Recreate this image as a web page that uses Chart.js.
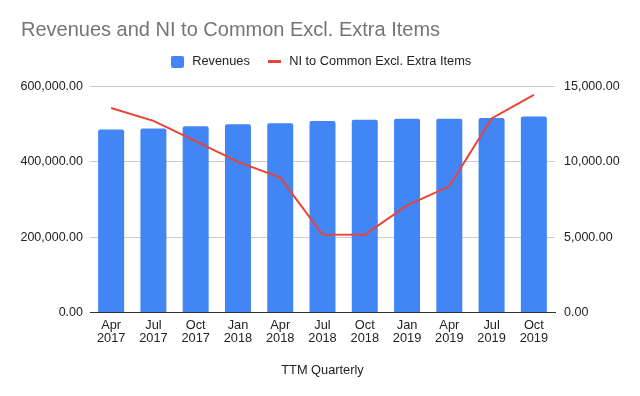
<!DOCTYPE html>
<html lang="en">
<head>
    <meta charset="UTF-8">
    <title>Revenues and NI to Common Excl. Extra Items</title>
    <script src="https://cdn.jsdelivr.net/npm/chart.js"></script>
    <style>
        body {
            margin: 0;
            background: white;
        }
        #chartContainer {
            width: 640px;
            height: 396px;
        }
    </style>
</head>
<body>
    <div id="chartContainer">
        <canvas id="finChart"></canvas>
    </div>

    <script>
        const quarters = [
            ['Apr', '2017'], ['Jul', '2017'], ['Oct', '2017'], ['Jan', '2018'],
            ['Apr', '2018'], ['Jul', '2018'], ['Oct', '2018'], ['Jan', '2019'],
            ['Apr', '2019'], ['Jul', '2019'], ['Oct', '2019']
        ];
        const revenues = [486000, 489000, 495000, 500500, 503000, 509000, 512000, 514700, 514700, 517000, 521000];
        const netIncome = [13580, 12730, 11380, 10000, 8960, 5180, 5160, 7110, 8380, 12890, 14450];

        const blue = '#4285f4';
        const red = '#ea4335';
        const fontFamily = 'Liberation Sans, Arial, sans-serif';

        const fmt = v => v.toLocaleString('en-US', { minimumFractionDigits: 2, maximumFractionDigits: 2 });

        // small legend icons: a rounded square for the bars, a short stroke for the line
        function makeIcon(w, h, color, r) {
            let c = document.createElement('canvas');
            c.width = w;
            c.height = h;
            let g = c.getContext('2d');
            g.fillStyle = color;
            g.beginPath();
            g.roundRect(0, 0, w, h, r);
            g.fill();
            return c;
        }
        const barIcon = makeIcon(13, 12, blue, 2);
        const lineIcon = makeIcon(13, 3, red, 0);

        // left-indent the title and pull the legend up closer to it
        const layoutTweaks = {
            id: 'layoutTweaks',
            afterLayout(chart) {
                if (chart.titleBlock) {
                    chart.titleBlock.left = 21;
                }
                if (chart.legend) {
                    chart.legend.top -= 8.6;
                    chart.legend.bottom -= 8.6;
                }
            }
        };

        let ctx = document.getElementById('finChart').getContext('2d');
        let chart = new Chart(ctx, {
            data: {
                labels: quarters,
                datasets: [{
                    type: 'bar',
                    label: 'Revenues',
                    data: revenues,
                    yAxisID: 'yLeft',
                    backgroundColor: blue,
                    borderRadius: 2,
                    borderSkipped: 'bottom',
                    categoryPercentage: 1,
                    barPercentage: 0.615,
                    order: 1
                }, {
                    type: 'line',
                    label: 'NI to Common Excl. Extra Items',
                    data: netIncome,
                    yAxisID: 'yRight',
                    borderColor: red,
                    backgroundColor: red,
                    borderWidth: 2,
                    pointRadius: 0,
                    tension: 0,
                    order: 0
                }]
            },
            options: {
                responsive: true,
                maintainAspectRatio: false,
                animation: false,
                layout: { padding: { top: 0, left: 0, right: 0, bottom: 14.3 } },
                plugins: {
                    title: {
                        display: true,
                        text: 'Revenues and NI to Common Excl. Extra Items',
                        align: 'start',
                        color: '#757575',
                        font: { family: fontFamily, size: 20, weight: 'normal' },
                        padding: { top: 18.7, bottom: 5.2 }
                    },
                    legend: {
                        labels: {
                            color: '#222',
                            font: { family: fontFamily, size: 12.8 },
                            usePointStyle: true,
                            pointStyleWidth: 17,
                            padding: 16,
                            sort: (a, b) => a.datasetIndex - b.datasetIndex,
                            generateLabels: c => {
                                let items = Chart.defaults.plugins.legend.labels.generateLabels(c);
                                items.forEach(it => {
                                    it.pointStyle = it.datasetIndex === 0 ? barIcon : lineIcon;
                                });
                                return items;
                            }
                        }
                    },
                    tooltip: { enabled: false }
                },
                scales: {
                    x: {
                        grid: { display: false, drawTicks: false },
                        border: { color: '#333' },
                        ticks: {
                            color: '#222',
                            font: { family: fontFamily, size: 12.8, lineHeight: 1 },
                            maxRotation: 0,
                            padding: 7
                        },
                        title: {
                            display: true,
                            text: 'TTM Quarterly',
                            color: '#222',
                            font: { family: fontFamily, size: 12.8 },
                            padding: { top: 10.3, bottom: 4 }
                        }
                    },
                    yLeft: {
                        position: 'left',
                        min: 0,
                        max: 600000,
                        ticks: {
                            stepSize: 200000,
                            color: '#222',
                            font: { family: fontFamily, size: 12.5 },
                            callback: v => fmt(v),
                            padding: 7
                        },
                        grid: { color: '#cccccc', drawTicks: false },
                        border: { display: false },
                        afterFit: s => { s.width = 90; }
                    },
                    yRight: {
                        position: 'right',
                        min: 0,
                        max: 15000,
                        ticks: {
                            stepSize: 5000,
                            color: '#222',
                            font: { family: fontFamily, size: 12.5 },
                            callback: v => fmt(v),
                            padding: 9
                        },
                        grid: { display: false, drawTicks: false },
                        border: { display: false },
                        afterFit: s => { s.width = 85; }
                    }
                }
            },
            plugins: [layoutTweaks]
        });
    </script>
</body>
</html>
